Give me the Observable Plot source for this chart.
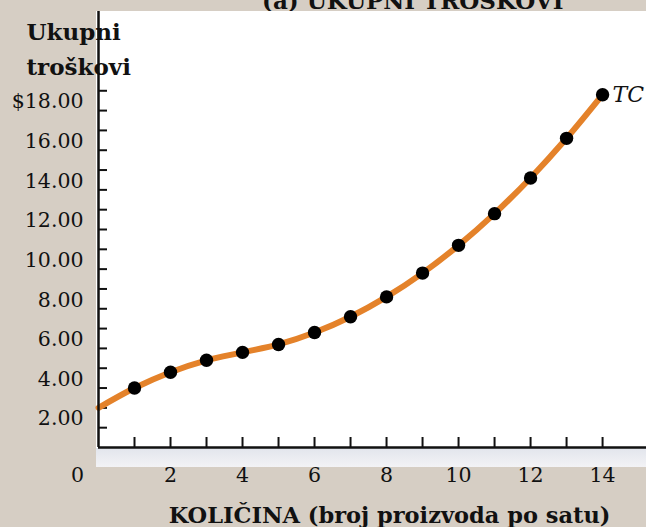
<!DOCTYPE html>
<html>
<head>
<meta charset="utf-8">
<script src="https://cdn.jsdelivr.net/npm/d3@7"></script>
<script src="https://cdn.jsdelivr.net/npm/@observablehq/plot@0.6"></script>
<style>
  html, body { margin: 0; padding: 0; background: #d6cec4; }
  #wrap { position: relative; width: 646px; height: 527px; background: #d6cec4; overflow: hidden; font-family: "DejaVu Serif", serif; color: #111; }
  #bg { position: absolute; left: 96px; top: 11px; width: 550px; height: 456px;
        background: linear-gradient(to bottom, #ffffff 0px, #ffffff 437px, #e2e5ec 437px, #f3f3f6 456px); }
  #title { position: relative; height: 11px; overflow: hidden; }
  #title span { position: absolute; left: 262px; bottom: -1px; font-weight: bold; font-size: 23px; line-height: 1; white-space: nowrap; }
  #chart { position: relative; }
  #chart svg { display: block; overflow: visible; }
</style>
</head>
<body>
<div id="wrap">
  <div id="bg"></div>
  <div id="title"><span>(a) UKUPNI TROŠKOVI</span></div>
  <div id="chart"></div>
</div>
<script>
// Data (total-cost schedule)
const quantity = [0, 1, 2, 3, 4, 5, 6, 7, 8, 9, 10, 11, 12, 13, 14];
const totalCost = [2.00, 3.00, 3.80, 4.40, 4.80, 5.20, 5.80, 6.60, 7.60, 8.80, 10.20, 11.80, 13.60, 15.60, 17.80];
const seriesLabel = "TC";

const yTickValues = [2, 4, 6, 8, 10, 12, 14, 16, 18];
const yTickLabels = ["2.00", "4.00", "6.00", "8.00", "10.00", "12.00", "14.00", "16.00", "$18.00"];
const yMinorTicks = [1, 2, 3, 4, 5, 6, 7, 8, 9, 10, 11, 12, 13, 14, 15, 16, 17, 18];
const xTickValues = [2, 4, 6, 8, 10, 12, 14];
const xMinorTicks = [1, 2, 3, 4, 5, 6, 7, 8, 9, 10, 11, 12, 13, 14];
const originLabel = "0";
const yTitle = "Ukupni\ntroškovi";
const xTitle = "KOLIČINA (broj proizvoda po satu)";

const data = quantity.map((q, i) => ({q, tc: totalCost[i]}));
const dotsData = data.filter(d => d.q > 0);
const lastPoint = data[data.length - 1];
const yLabelMap = new Map(yTickValues.map((v, i) => [v, yTickLabels[i]]));

const orange = "#e4822a";

const chart = Plot.plot({
  width: 646,
  height: 516,
  marginLeft: 98,
  marginRight: 0,
  marginTop: 0,
  marginBottom: 80,
  style: {fontFamily: "DejaVu Serif, serif", fontSize: "20.5px", color: "#111", background: "transparent", overflow: "visible"},
  x: {domain: [0, 15.22], label: null},
  y: {domain: [0, 22], label: null},
  marks: [
    Plot.text([yTitle], {text: d => d, frameAnchor: "top-left", textAnchor: "start", lineAnchor: "top",
      lineHeight: 1.52, dx: -72, dy: 4, fontSize: 23, fontWeight: "bold", fill: "#111"}),
    Plot.axisY(yTickValues, {label: null, tickSize: 0, tickPadding: 15, dy: 11, tickFormat: d => yLabelMap.get(d), fontSize: 20.5}),
    Plot.axisY(yMinorTicks, {label: null, tickSize: 9, dx: 9, strokeWidth: 2, stroke: "#111", tickFormat: () => ""}),
    Plot.axisX(xMinorTicks, {label: null, tickSize: 10, dy: -10, strokeWidth: 2, stroke: "#111", tickFormat: () => ""}),
    Plot.axisX(xTickValues, {label: null, tickSize: 0, tickPadding: 20, fontSize: 20.5}),
    Plot.text([originLabel], {x: 0, text: d => d, frameAnchor: "bottom", lineAnchor: "top", dx: -21, dy: 20, fontSize: 20.5, fill: "#111"}),
    Plot.line(data, {x: "q", y: "tc", stroke: orange, strokeWidth: 6, curve: "catmull-rom"}),
    Plot.ruleX([0], {stroke: "#111", strokeWidth: 2.5}),
    Plot.ruleY([0], {stroke: "#111", strokeWidth: 2.5}),
    Plot.dot(dotsData, {x: "q", y: "tc", r: 6.7, fill: "#000", stroke: null}),
    Plot.text([lastPoint], {x: "q", y: "tc", text: () => seriesLabel, dx: 10, textAnchor: "start", fontStyle: "italic", fontSize: 22, fill: "#111"}),
    Plot.text([xTitle], {text: d => d, frameAnchor: "bottom", lineAnchor: "bottom", dx: 17, dy: 75, fontSize: 22.5, fontWeight: "bold", fill: "#111"})
  ]
});
document.getElementById("chart").appendChild(chart);
</script>
</body>
</html>
